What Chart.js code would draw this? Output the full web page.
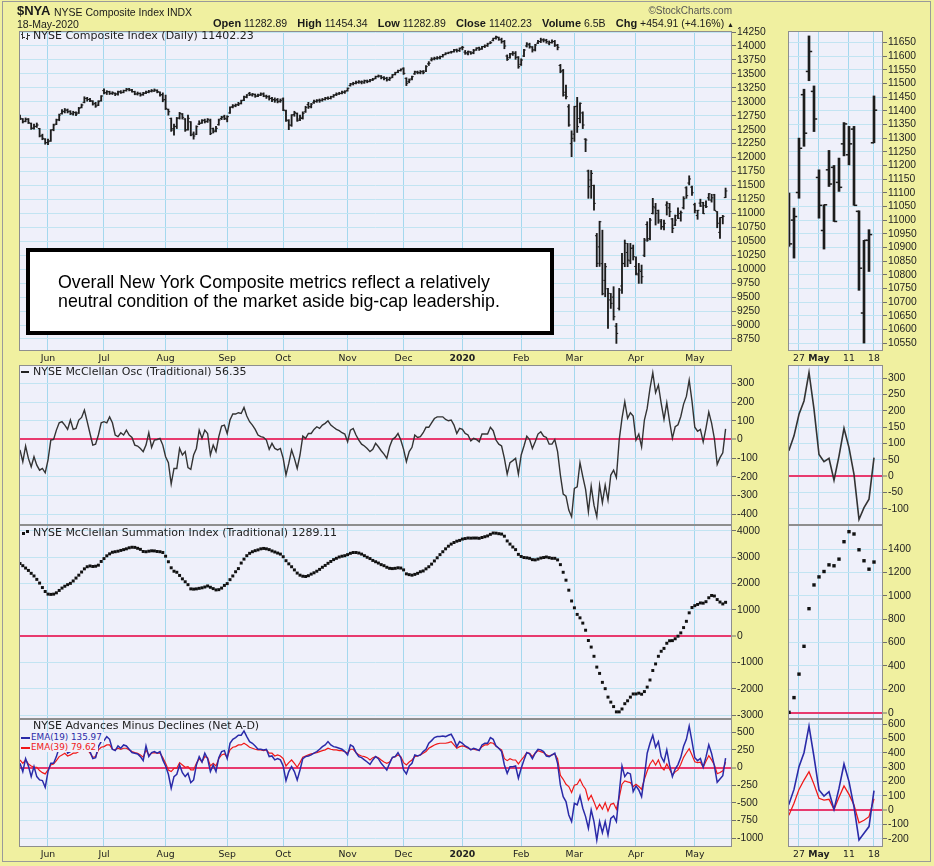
<!DOCTYPE html>
<html><head><meta charset="utf-8">
<title>NYSE Composite Index</title>
<script src="https://cdn.jsdelivr.net/npm/chart.js@4.4.1/dist/chart.umd.min.js"></script>
<style>
html,body{margin:0;padding:0;}
body{width:934px;height:866px;background:#F0F0A0;position:relative;overflow:hidden;}
canvas{position:absolute;}
#overlay{position:absolute;left:0;top:0;width:934px;height:866px;pointer-events:none;}
.t{position:absolute;white-space:nowrap;color:#1a1a1a;}
.ar{font-family:"Liberation Sans",Arial,sans-serif;}
.ver{font-family:"DejaVu Sans",Verdana,sans-serif;font-size:11px;line-height:13px;color:#222;}
.sm{font-family:"DejaVu Sans",Verdana,sans-serif;font-size:8.8px;line-height:10px;background:#EFF0FA;padding:0 2px 0 1px;}
.hd b{font-size:11px;}
</style></head><body>
<div style="position:absolute;left:2px;top:1px;width:929px;height:861px;border:1px solid #9a9a9a;box-sizing:border-box;"></div>
<div id="overlay">
  <div class="t ar" style="left:17px;top:3px;font-size:13px;line-height:15px;font-weight:bold;">$NYA</div>
  <div class="t ar" style="left:54px;top:5.5px;font-size:10.5px;line-height:12px;">NYSE Composite Index</div>
  <div class="t ar" style="left:167px;top:5.5px;font-size:10.5px;line-height:12px;">INDX</div>
  <div class="t ar" style="right:202px;top:5px;font-size:10px;line-height:12px;color:#555;">©StockCharts.com</div>
  <div class="t ar" style="left:17px;top:17.5px;font-size:10.5px;line-height:12px;">18-May-2020</div>
  <div class="t ar hd" style="left:213px;width:521px;top:17px;font-size:10.5px;line-height:12px;display:flex;justify-content:space-between;">
    <span><b>Open</b> 11282.89</span><span><b>High</b> 11454.34</span><span><b>Low</b> 11282.89</span><span><b>Close</b> 11402.23</span><span><b>Volume</b> 6.5B</span><span><b>Chg</b> +454.91 (+4.16%) <span style="font-size:7px;">▲</span></span>
  </div>

  <div style="position:absolute;left:22px;top:32px;width:1px;height:7px;background:#333;"></div>
  <div style="position:absolute;left:21px;top:34px;width:2px;height:1px;background:#333;"></div>
  <div style="position:absolute;left:23px;top:37px;width:2px;height:1px;background:#333;"></div>
  <div style="position:absolute;left:27px;top:33px;width:1px;height:7px;background:#333;"></div>
  <div style="position:absolute;left:26px;top:38px;width:2px;height:1px;background:#333;"></div>
  <div style="position:absolute;left:28px;top:35px;width:2px;height:1px;background:#333;"></div>
  <div class="t ver" style="left:33px;top:29px;">NYSE Composite Index (Daily) 11402.23</div>

  <div style="position:absolute;left:21px;top:371px;width:8px;height:2px;background:#222;"></div>
  <div class="t ver" style="left:33px;top:365px;">NYSE McClellan Osc (Traditional) 56.35</div>

  <div style="position:absolute;left:22px;top:532px;width:3px;height:3px;background:#111;"></div>
  <div style="position:absolute;left:26px;top:530px;width:3px;height:3px;background:#111;"></div>
  <div class="t ver" style="left:33px;top:526px;">NYSE McClellan Summation Index (Traditional) 1289.11</div>

  <div class="t ver" style="left:33px;top:719px;">NYSE Advances Minus Declines (Net A-D)</div>
  <div class="t sm" style="left:20px;top:732px;color:#2A2AA8;"><span style="display:inline-block;width:9px;height:2px;background:#2A2AA8;vertical-align:middle;margin-right:1px;"></span>EMA(19) 135.97</div>
  <div class="t sm" style="left:20px;top:742px;color:#F01818;"><span style="display:inline-block;width:9px;height:2px;background:#F01818;vertical-align:middle;margin-right:1px;"></span>EMA(39) 79.62</div>

  <div style="position:absolute;left:26px;top:248px;width:528px;height:87px;box-sizing:border-box;background:#fff;border:4px solid #000;"></div>
  <div class="t" style="left:58px;top:273px;font-family:'Liberation Sans',Arial,sans-serif;font-size:17.8px;line-height:19px;color:#000;">Overall New York Composite metrics reflect a relatively<br>neutral condition of the market aside big-cap leadership.</div>
</div>
<script>
// ---------- data ----------
const monthTickIdx = [10,30,52,74,94,117,137,158,179,198,220,241];
const monthTickLabels = ['Jun','Jul','Aug','Sep','Oct','Nov','Dec','2020','Feb','Mar','Apr','May'];
const miniTickIdx = [237,241,247,252];
const miniTickLabels = ['27','May','11','18'];

const priceTicks = [8750,9000,9250,9500,9750,10000,10250,10500,10750,11000,11250,11500,11750,12000,12250,12500,12750,13000,13250,13500,13750,14000,14250];
const miniPriceTicks = [10550,10600,10650,10700,10750,10800,10850,10900,10950,11000,11050,11100,11150,11200,11250,11300,11350,11400,11450,11500,11550,11600,11650];
const oscTicks = [-400,-300,-200,-100,0,100,200,300];
const miniOscTicks = [-100,-50,0,50,100,150,200,250,300];
const sumTicks = [-3000,-2000,-1000,0,1000,2000,3000,4000];
const miniSumTicks = [0,200,400,600,800,1000,1200,1400];
const adTicks = [-1000,-750,-500,-250,0,250,500];
const miniAdTicks = [-200,-100,0,100,200,300,400,500,600];

const priceOpen = [12740,12690,12650,12690,12610,12530,12560,12520,12390,12330,
12270,12300,12500,12600,12680,12790,12830,12850,12830,12780,
12810,12800,12900,12990,13060,13040,13010,12970,12940,13020,
13200,13160,13180,13150,13150,13140,13180,13170,13200,13230,
13210,13180,13140,13150,13130,13160,13170,13190,13190,13200,
13170,13130,13040,12860,12700,12520,12560,12710,12780,12690,
12500,12640,12420,12420,12600,12620,12670,12650,12660,12520,
12490,12590,12700,12740,12690,12800,12910,12930,12950,12970,
13030,13080,13150,13120,13130,13100,13120,13140,13100,13090,
13060,13040,13040,13010,13050,12840,12660,12580,12770,12790,
12690,12700,12820,12950,12910,12990,13010,13030,13030,13040,
13070,13060,13090,13130,13140,13150,13170,13200,13290,13320,
13330,13350,13350,13340,13370,13370,13390,13420,13455,13460,
13430,13420,13400,13440,13490,13530,13560,13600,13420,13360,
13410,13500,13530,13520,13540,13550,13680,13750,13770,13780,
13790,13810,13850,13870,13890,13900,13930,13920,13970,13890,
13860,13890,13880,13930,13970,13950,13990,14010,14050,14100,
14140,14150,14110,14080,13820,13790,13860,13870,13800,13670,
13820,14000,14020,13980,13930,14050,14080,14110,14100,14050,
14060,14080,14010,13650,13560,13170,12910,12250,12420,12920,
12700,12800,12330,11760,11600,11500,10600,10400,10100,9800,
9650,9450,9500,8980,9300,9700,10100,10300,10150,10380,
10050,9900,9960,10250,10800,10550,11000,11100,11050,10850,
10760,11150,11100,10900,10790,
10958,11000,11101,11459,11544,11471,11156,10962,11184,11193,11138,11279,11239,11333,11032,10660,10926,11282.89];

const priceHigh = [12760,12700,12710,12700,12620,12600,12620,12525,12420,12340,
12330,12500,12600,12690,12780,12860,12880,12870,12840,12830,
12820,12900,12960,13090,13080,13060,13020,12990,13020,13110,
13230,13200,13190,13180,13160,13190,13200,13210,13240,13240,
13225,13190,13175,13160,13170,13190,13205,13220,13230,13215,
13180,13160,13120,12870,12710,12600,12720,12810,12790,12700,
12760,12645,12460,12570,12660,12680,12690,12700,12690,12530,
12560,12690,12740,12760,12750,12910,12950,12960,12990,13030,
13100,13130,13170,13150,13140,13140,13160,13160,13120,13110,
13080,13070,13060,13050,13070,12850,12680,12770,12830,12800,
12760,12820,12920,12990,12970,13030,13040,13050,13060,13080,
13090,13100,13130,13160,13170,13190,13200,13250,13330,13350,
13370,13380,13375,13390,13390,13400,13420,13460,13480,13470,
13450,13440,13440,13490,13530,13570,13590,13610,13430,13410,
13460,13550,13550,13560,13560,13650,13720,13790,13800,13810,
13820,13850,13880,13890,13905,13940,13945,13965,13995,13920,
13910,13900,13940,13970,13980,13995,14020,14050,14080,14140,
14178,14160,14140,14100,13840,13870,13900,13900,13810,13770,
13940,14060,14050,13990,14030,14100,14140,14130,14120,14090,
14110,14100,14030,13670,13580,13300,12950,12480,12920,13080,
12980,12820,12340,11777,11770,11509,10642,10860,10700,10105,
9657,9567,9687,9030,9657,10284,10523,10463,10463,10433,
10224,10105,10075,10553,10851,10911,11270,11180,11061,10893,
10881,11210,11180,10911,10971,
11099,11044,11300,11479,11674,11491,11184,11056,11255,11200,11227,11357,11343,11343,11034,10926,10965,11454.34];

const priceLow = [12680,12620,12640,12610,12505,12510,12540,12370,12320,12240,
12230,12290,12480,12590,12660,12780,12800,12800,12770,12760,
12750,12790,12890,12980,13010,13000,12940,12900,12930,13010,
13140,13130,13130,13130,13110,13120,13150,13160,13190,13195,
13170,13125,13120,13100,13115,13145,13160,13175,13185,13160,
13100,13000,12860,12760,12470,12400,12520,12690,12690,12470,
12490,12390,12330,12410,12590,12610,12620,12630,12410,12440,
12460,12580,12680,12680,12640,12790,12890,12910,12930,12960,
13020,13070,13110,13100,13080,13090,13110,13090,13060,13030,
13000,12990,12980,12990,12840,12650,12500,12560,12740,12650,
12660,12690,12810,12880,12890,12970,12990,12990,13010,13030,
13040,13050,13080,13110,13130,13140,13150,13190,13280,13300,
13320,13330,13320,13330,13340,13355,13380,13410,13440,13410,
13390,13370,13380,13430,13480,13520,13550,13490,13290,13340,
13390,13490,13500,13500,13500,13540,13650,13730,13750,13760,
13770,13800,13840,13860,13870,13890,13890,13900,13930,13850,
13840,13850,13860,13920,13920,13940,13970,13990,14040,14090,
14120,14100,14050,13950,13740,13780,13830,13760,13600,13650,
13810,13980,13960,13890,13910,14040,14060,14070,14050,14020,
14050,13990,13930,13520,13100,13050,12560,12016,12290,12450,
12620,12520,12106,11270,11270,11060,10045,10050,9540,9507,
8940,9298,9089,8671,9268,9567,10045,10045,10100,10165,
9896,9746,9746,10224,10500,10523,10990,10792,10822,10714,
10702,10971,10941,10654,10780,
10904,10861,11080,11270,11510,11324,11007,10894,11123,10995,11105,11235,11202,11054,10743,10550,10812,11282.89];

const priceClose = [12703,12643,12685,12625,12524,12554,12584,12387,12345,12267,
12285,12494,12584,12673,12763,12822,12852,12822,12793,12805,
12781,12882,12942,13061,13043,13020,12960,12924,13002,13103,
13163,13181,13151,13163,13139,13175,13163,13199,13223,13211,
13181,13139,13151,13121,13151,13175,13187,13199,13211,13181,
13121,13032,12882,12822,12494,12554,12703,12793,12721,12494,
12703,12404,12387,12554,12613,12661,12643,12685,12434,12464,
12524,12673,12721,12703,12733,12900,12924,12942,12960,13020,
13091,13121,13133,13139,13103,13121,13139,13103,13091,13061,
13032,13020,13002,13020,12852,12673,12584,12763,12805,12661,
12721,12793,12900,12912,12960,13002,13020,13020,13043,13061,
13061,13091,13115,13139,13151,13175,13181,13241,13318,13330,
13342,13360,13360,13378,13360,13390,13402,13450,13462,13438,
13420,13390,13420,13480,13521,13557,13581,13509,13330,13390,
13450,13539,13521,13539,13521,13629,13689,13760,13778,13784,
13808,13838,13868,13880,13892,13927,13915,13957,13975,13880,
13904,13868,13915,13957,13939,13987,13999,14035,14059,14136,
14166,14119,14077,13999,13760,13856,13868,13796,13629,13748,
13927,14035,13987,13927,14017,14077,14107,14107,14077,14059,
14077,14017,13975,13539,13121,13091,12584,12345,12913,12554,
12972,12584,12315,11479,11717,11180,10105,10851,9560,10045,
9567,9388,9149,8850,9627,10105,10463,10165,10374,10224,
9926,9986,9866,10523,10523,10881,11120,11001,10881,10762,
10822,11180,11031,10732,10881,
10913,11013,11263,11318,11617,11370,11054,11056,11132,10995,11120,11352,11279,11054,10824,10926,10947,11402.23];

const mcOsc = [-56,-119,-35,-101,-146,-92,-137,-164,-155,-178,
-110,-3,0,50,89,95,77,54,104,54,
59,104,118,157,95,32,-30,-25,24,89,
95,89,121,89,24,15,36,24,50,24,
11,-30,-35,-48,-65,-30,36,-42,-3,0,
6,-30,-92,-124,-238,-155,-155,-48,-83,-65,
-150,-160,-83,-48,50,6,50,32,-83,-30,
-65,15,72,77,32,104,136,136,143,139,
171,125,95,77,54,24,15,11,-3,-53,
-21,-48,-56,-48,-101,-190,-128,-56,-101,-155,
-83,18,6,32,32,54,68,59,77,86,
100,77,65,54,47,36,29,-12,50,59,
24,-3,-25,-35,-48,-65,-53,-21,-39,-60,
-78,-101,-39,0,11,32,-3,-53,-119,-65,
-42,24,11,15,36,65,65,89,112,121,
121,121,107,100,104,77,32,
59,54,32,24,-7,6,0,-12,29,29,
29,65,47,-3,-25,-35,-101,-185,-124,-113,
-101,-185,-83,-35,18,0,-48,-12,29,41,
18,11,-25,-25,0,-65,-190,-292,-303,-377,
-413,-261,-253,-124,-199,-267,-386,-249,-351,-413,
-244,-338,-244,-324,-190,-164,-203,-3,113,202,
113,143,125,-3,29,-39,104,166,273,357,
250,291,193,107,196,95,6,68,
79,123,189,230,317,205,66,44,54,-13,61,146,87,5,-133,-97,-71,56.35];

const mcSum = [2762,2680,2590,2500,2390,2290,2160,2020,1850,1700,
1600,1590,1600,1650,1740,1830,1900,1960,2010,2100,
2210,2320,2440,2560,2640,2670,2650,2660,2700,2840,
2950,3055,3130,3190,3210,3230,3260,3290,3320,3360,
3380,3375,3340,3300,3220,3210,3230,3245,3240,3220,
3210,3180,3040,2830,2600,2470,2430,2310,2180,2070,
1960,1800,1790,1800,1820,1840,1870,1910,1860,1810,
1760,1770,1830,1930,2000,2150,2290,2450,2570,2780,
2930,3060,3150,3210,3250,3280,3320,3335,3320,3290,
3240,3200,3160,3120,3020,2870,2750,2640,2520,2400,
2320,2280,2270,2300,2360,2410,2470,2540,2620,2690,
2770,2840,2910,2960,3010,3040,3060,3100,3150,3180,
3180,3160,3120,3060,3000,2950,2880,2830,2780,2720,
2680,2620,2580,2570,2580,2600,2590,2520,2370,2340,
2320,2350,2390,2450,2480,2560,2640,2740,2860,2980,
3100,3210,3320,3420,3500,3560,3610,3640,3690,3710,
3730,3725,3730,3730,3720,3750,3780,3810,3870,3920,
3915,3895,3880,3800,3620,3500,3390,3290,3110,3030,
2990,2980,2960,2910,2900,2930,2970,2990,3010,2985,
2960,2960,2900,2720,2430,2130,1750,1340,1080,830,
700,500,230,-160,-410,-760,-1170,-1410,-1750,-1990,
-2310,-2500,-2670,-2870,-2870,-2760,-2560,-2450,-2310,-2190,
-2190,-2160,-2200,-2100,-1930,-1660,-1300,-1050,-760,-570,
-460,-265,-170,-165,-95,
3,129,330,568,890,1093,1162,1208,1265,1257,1314,1463,1549,1529,1394,1300,1228,1289.11];

const ema19 = [61,-56,127,23,-127,14,-127,-174,-183,-278,
-56,61,61,156,288,368,368,204,227,251,
297,382,401,439,368,227,127,141,297,368,
382,439,401,260,241,307,274,321,307,260,
213,204,194,156,99,307,156,213,227,204,
227,109,23,-94,-292,-127,-94,38,-71,-127,
-80,-212,-174,38,156,80,204,127,-56,38,
-56,141,227,241,127,345,401,425,458,458,
519,439,368,345,307,260,260,251,260,156,
165,109,127,109,23,-183,-56,14,-56,-174,
-33,127,156,165,180,204,227,260,297,321,
368,321,297,288,274,260,227,180,321,297,
213,156,141,109,80,47,109,156,127,61,
14,-33,61,146,156,213,141,-33,-89,23,
61,180,165,180,227,260,345,382,425,439,
439,448,439,458,472,401,297,
368,345,307,288,251,274,260,241,321,345,
345,425,401,307,274,227,38,-80,14,14,
23,-150,-9,109,213,194,127,204,260,251,
227,165,156,180,204,61,-245,-410,-481,-670,
-764,-505,-528,-401,-575,-693,-858,-599,-764,-1024,
-764,-920,-764,-953,-717,-684,-764,-363,23,-127,
-71,-89,-339,-259,-316,-410,-127,204,345,458,
288,368,156,80,251,38,-127,-20,
43,145,303,400,586,372,141,99,129,6,152,322,199,24,-207,-161,-114,135.97];

const ema39 = [108,61,108,52,23,5,5,-42,-71,-89,
-33,38,52,99,156,180,204,165,180,204,
204,227,251,274,260,204,146,156,251,288,
297,321,321,260,251,274,260,274,274,251,
227,213,204,180,146,251,180,204,213,204,
204,141,61,-33,-56,-9,-9,71,38,5,
14,-33,-33,61,127,80,156,141,23,61,
23,127,180,194,146,251,288,297,321,321,
345,321,288,274,260,251,251,241,251,204,
204,165,180,165,127,23,71,108,61,5,
71,146,165,180,194,204,213,227,241,251,
274,260,251,251,241,241,227,204,260,260,
213,180,165,156,141,108,141,156,141,108,
80,61,80,141,156,180,156,71,38,80,
108,156,165,180,204,227,274,297,321,335,
345,345,345,354,368,321,274,
297,307,297,274,260,260,251,251,297,321,
321,354,345,307,274,251,127,99,127,108,
108,52,108,156,213,204,156,204,241,227,
213,180,165,180,194,127,-108,-165,-235,-268,
-353,-249,-235,-165,-249,-306,-457,-391,-485,-589,
-519,-589,-495,-613,-519,-505,-589,-424,-235,-188,
-202,-212,-268,-235,-268,-306,-165,-47,52,108,
38,108,5,-33,52,-23,-103,-60,
-33,48,145,210,268,180,83,71,76,6,90,169,110,36,-87,-70,-45,79.62];

// ---------- styling ----------
const PANEL_BG = '#EFF0FA';
const FRAME = '#8e8e8e';
const HGRID = '#C2E4F2';
const VGRID = '#A4D8EE';
const ZERO = '#E83A6E';
const BAR = '#1c1c1c';
const PAD = 8;

const framePlugin = {
  id: 'panelFrame',
  beforeDraw(chart) {
    const a = chart.chartArea, ctx = chart.ctx;
    ctx.save(); ctx.fillStyle = PANEL_BG;
    ctx.fillRect(a.left, a.top, a.right - a.left, a.bottom - a.top); ctx.restore();
  },
  afterDraw(chart) {
    const a = chart.chartArea, ctx = chart.ctx;
    ctx.save(); ctx.strokeStyle = FRAME; ctx.lineWidth = 1;
    ctx.strokeRect(a.left + 0.5, a.top + 0.5, a.right - a.left - 1, a.bottom - a.top - 1); ctx.restore();
  }
};

function yScale(min, max, ticks, axisW, zero) {
  return {
    type: 'linear', position: 'right', min: min, max: max,
    afterBuildTicks: s => { s.ticks = ticks.map(v => ({ value: v })); },
    afterFit: s => { s.width = axisW; s.paddingTop = 0; s.paddingBottom = 0; s.paddingLeft = 0; s.paddingRight = 0; },
    border: { display: false },
    grid: {
      color: c => (zero && c.tick && c.tick.value === 0) ? ZERO : HGRID,
      lineWidth: c => (zero && c.tick && c.tick.value === 0) ? 2 : 1,
      drawTicks: true, tickLength: 4, tickColor: '#707070', tickWidth: 1
    },
    ticks: {
      autoSkip: false, padding: 1, color: '#222',
      font: { family: "'Liberation Sans', Arial, sans-serif", size: 10.3 },
      callback: v => String(v)
    }
  };
}

function xScale(min, max, ticks, labels, showLabels, axisH, boldLabel) {
  return {
    type: 'linear', min: min, max: max, offset: false,
    afterBuildTicks: s => { s.ticks = ticks.map(v => ({ value: v })); },
    afterFit: s => { s.height = axisH; s.paddingLeft = 0; s.paddingRight = 0; s.paddingTop = 0; s.paddingBottom = 0; },
    border: { display: false },
    grid: { color: VGRID, lineWidth: 1, drawTicks: false, offset: false },
    ticks: {
      display: showLabels, autoSkip: false, maxRotation: 0, minRotation: 0, padding: 2, color: '#222',
      font: c => ({ family: "'DejaVu Sans', Verdana, sans-serif", size: 9.3,
        weight: (c.tick && labels[ticks.indexOf(c.tick.value)] === boldLabel) ? 'bold' : 'normal' }),
      callback: v => { const k = ticks.indexOf(v); return k >= 0 ? labels[k] : ''; }
    }
  };
}

const overlay = document.getElementById('overlay');
function panel(cfg) {
  const c = document.createElement('canvas');
  const w = cfg.w + cfg.axisW, h = cfg.h + cfg.xAxisH + 2 * PAD;
  c.width = w; c.height = h;
  c.style.left = cfg.left + 'px'; c.style.top = (cfg.top - PAD) + 'px';
  c.style.width = w + 'px'; c.style.height = h + 'px';
  document.body.insertBefore(c, overlay);
  return new Chart(c, {
    type: 'line',
    data: { datasets: cfg.datasets },
    options: {
      responsive: false, animation: false, events: [],
      layout: { autoPadding: false, padding: { top: PAD, bottom: PAD, left: 0, right: 0 } },
      plugins: { legend: { display: false }, tooltip: { enabled: false } },
      scales: { x: cfg.x, y: cfg.y }
    },
    plugins: [framePlugin]
  });
}

const pts = arr => arr.map((v, i) => ({ x: i, y: v }));
const ranges = priceHigh.map((h, i) => ({ x: i, y: [priceLow[i], h] }));

function ohlcSets(thick, tick, tw) {
  return [
    { type: 'bar', data: ranges, backgroundColor: BAR, barThickness: thick, borderWidth: 0 },
    { type: 'line', data: pts(priceOpen), showLine: false, pointStyle: 'dash', pointRotation: 180,
      pointRadius: tick, pointBorderWidth: tw, pointBorderColor: BAR, borderColor: BAR },
    { type: 'line', data: pts(priceClose), showLine: false, pointStyle: 'dash', pointRotation: 0,
      pointRadius: tick, pointBorderWidth: tw, pointBorderColor: BAR, borderColor: BAR }
  ];
}

const MX0 = -0.357, MX1 = 254.29;   // main panels x range (trading-day index)
const NX0 = 234.8, NX1 = 253.8;     // mini panels x range

// main column
panel({ left: 19, top: 31, w: 713, h: 320, axisW: 48, xAxisH: 14,
  datasets: ohlcSets(1.2, 1.8, 1),
  x: xScale(MX0, MX1, monthTickIdx, monthTickLabels, true, 14, '2020'),
  y: yScale(8535, 14268, priceTicks, 48, false) });
panel({ left: 19, top: 365, w: 713, h: 160, axisW: 48, xAxisH: 0,
  datasets: [{ data: pts(mcOsc), borderColor: '#333', borderWidth: 1.4, pointRadius: 0, tension: 0 }],
  x: xScale(MX0, MX1, monthTickIdx, monthTickLabels, false, 0, ''),
  y: yScale(-457, 398, oscTicks, 48, true) });
panel({ left: 19, top: 525, w: 713, h: 194, axisW: 48, xAxisH: 0,
  datasets: [{ data: pts(mcSum), showLine: false, pointStyle: 'rect', pointRadius: 2.1,
    pointBorderWidth: 0, pointBackgroundColor: '#111', borderColor: '#111' }],
  x: xScale(MX0, MX1, monthTickIdx, monthTickLabels, false, 0, ''),
  y: yScale(-3141, 4225, sumTicks, 48, true) });
panel({ left: 19, top: 719, w: 713, h: 128, axisW: 48, xAxisH: 14,
  datasets: [
    { data: pts(ema19), borderColor: '#2A2AA8', borderWidth: 1.5, pointRadius: 0, tension: 0 },
    { data: pts(ema39), borderColor: '#F01818', borderWidth: 1.2, pointRadius: 0, tension: 0 }],
  x: xScale(MX0, MX1, monthTickIdx, monthTickLabels, true, 14, '2020'),
  y: yScale(-1123, 688, adTicks, 48, true) });

// mini column
panel({ left: 788, top: 31, w: 95, h: 320, axisW: 45, xAxisH: 14,
  datasets: ohlcSets(2, 3.2, 1.5),
  x: xScale(NX0, NX1, miniTickIdx, miniTickLabels, true, 14, 'May'),
  y: yScale(10521, 11692, miniPriceTicks, 45, false) });
panel({ left: 788, top: 365, w: 95, h: 160, axisW: 45, xAxisH: 0,
  datasets: [{ data: pts(mcOsc), borderColor: '#333', borderWidth: 1.6, pointRadius: 0, tension: 0 }],
  x: xScale(NX0, NX1, miniTickIdx, miniTickLabels, false, 0, ''),
  y: yScale(-150, 340, miniOscTicks, 45, true) });
panel({ left: 788, top: 525, w: 95, h: 194, axisW: 45, xAxisH: 0,
  datasets: [{ data: pts(mcSum), showLine: false, pointStyle: 'rect', pointRadius: 2.4,
    pointBorderWidth: 0, pointBackgroundColor: '#111', borderColor: '#111' }],
  x: xScale(NX0, NX1, miniTickIdx, miniTickLabels, false, 0, ''),
  y: yScale(-54, 1606, miniSumTicks, 45, true) });
panel({ left: 788, top: 719, w: 95, h: 128, axisW: 45, xAxisH: 14,
  datasets: [
    { data: pts(ema19), borderColor: '#2A2AA8', borderWidth: 1.6, pointRadius: 0, tension: 0 },
    { data: pts(ema39), borderColor: '#F01818', borderWidth: 1.3, pointRadius: 0, tension: 0 }],
  x: xScale(NX0, NX1, miniTickIdx, miniTickLabels, true, 14, 'May'),
  y: yScale(-256, 635, miniAdTicks, 45, true) });
</script>
</body></html>
